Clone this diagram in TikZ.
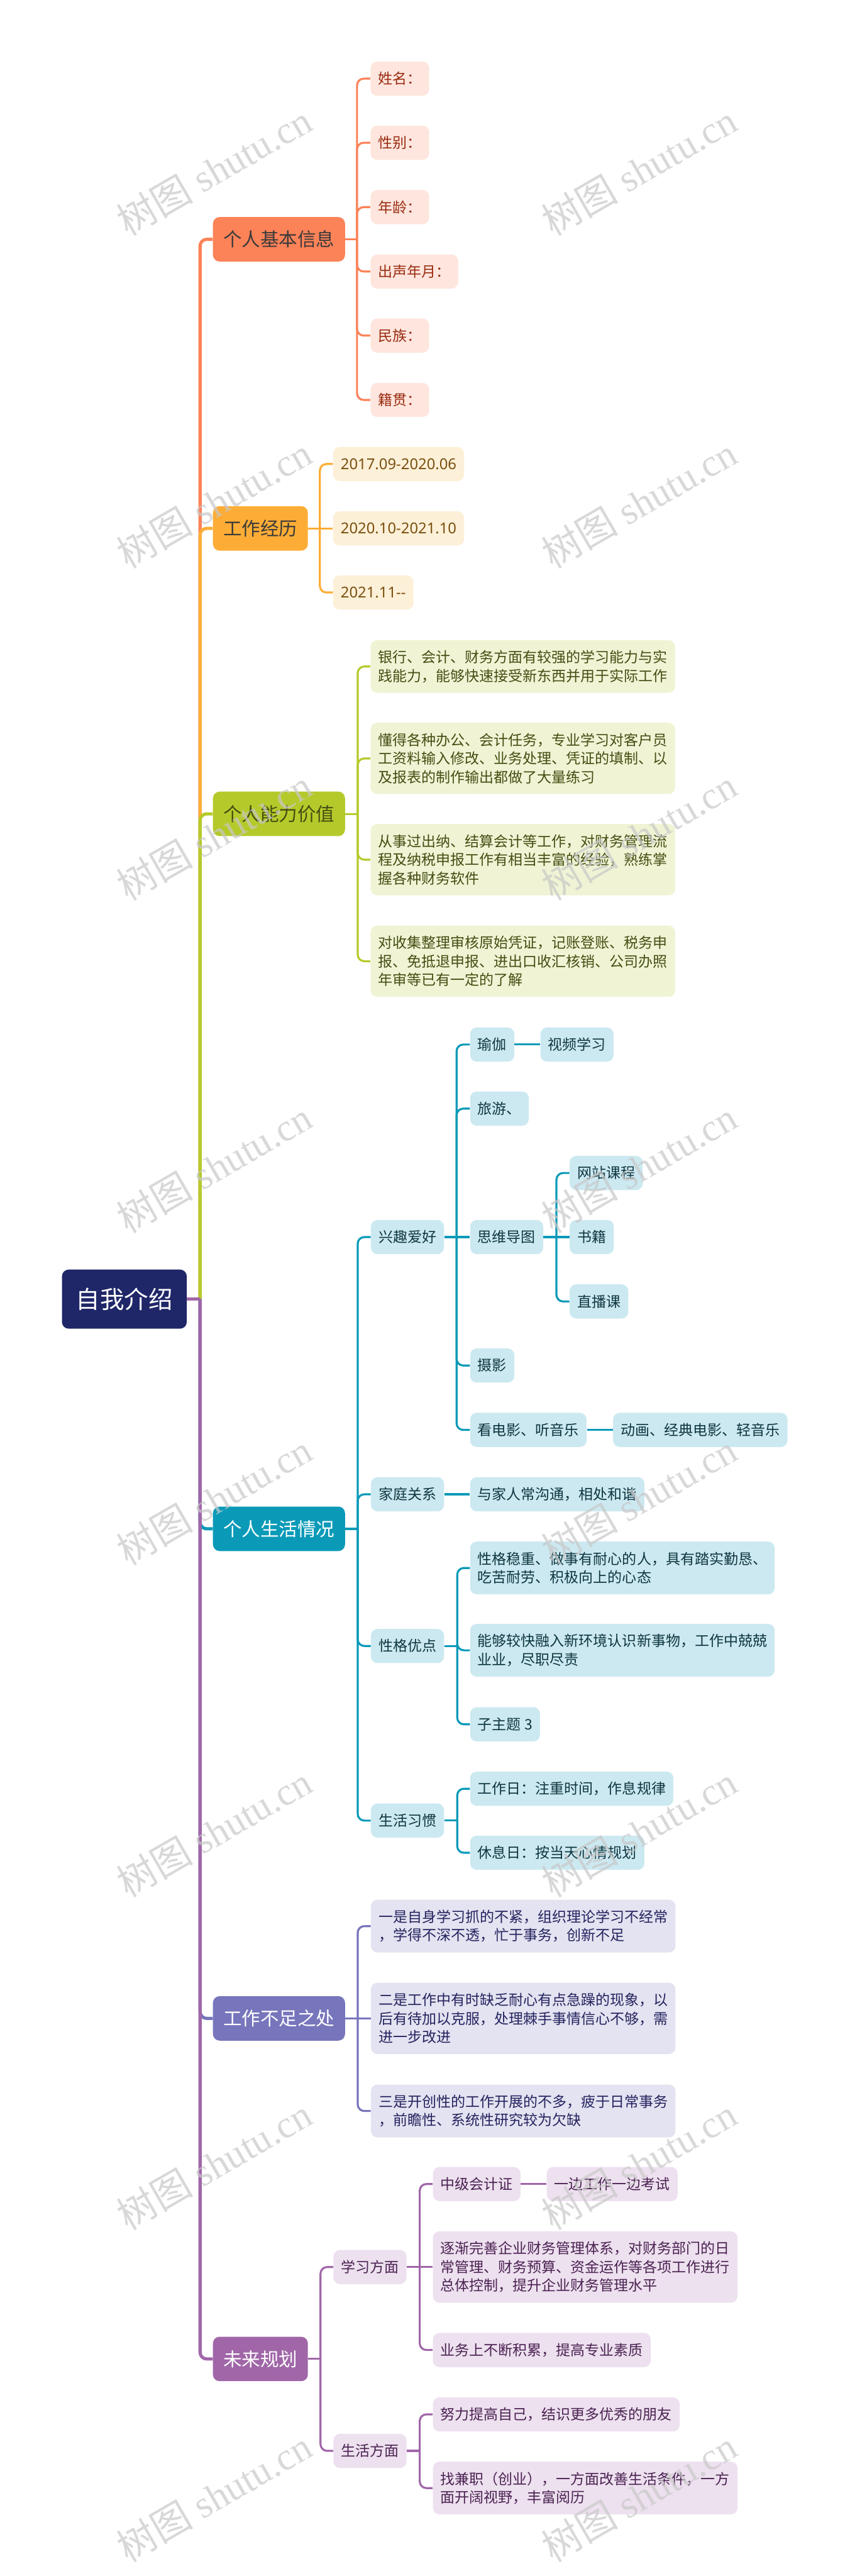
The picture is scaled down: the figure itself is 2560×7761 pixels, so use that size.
\documentclass[tikz,border=0pt]{standalone}
\usepackage{fontspec}
\setmainfont{Noto Sans CJK SC}
\newfontfamily\wmfont{Liberation Serif}
\newfontfamily\numfont{Noto Sans}
\usetikzlibrary{positioning,calc}

\begin{document}
\begin{tikzpicture}[x=0.25pt,y=-0.25pt]
    \definecolor{colroot}{HTML}{1f2768}
    \definecolor{colcoral}{HTML}{fc8258}
    \definecolor{colcoralb}{HTML}{fee6de}
    \definecolor{colcoralt}{HTML}{9a2b10}
    \definecolor{colamber}{HTML}{fdad36}
    \definecolor{colamberb}{HTML}{fdf0d8}
    \definecolor{colambert}{HTML}{7a4f0f}
    \definecolor{collime}{HTML}{b5ca2a}
    \definecolor{collimeb}{HTML}{f0f4d5}
    \definecolor{collimet}{HTML}{454d12}
    \definecolor{colteal}{HTML}{0a9ab8}
    \definecolor{coltealb}{HTML}{cce9f1}
    \definecolor{coltealt}{HTML}{0f3640}
    \definecolor{colindigo}{HTML}{7775bb}
    \definecolor{colindigob}{HTML}{e3e3f1}
    \definecolor{colindigot}{HTML}{25235f}
    \definecolor{colpurple}{HTML}{a066a8}
    \definecolor{colpurpleb}{HTML}{ede0ef}
    \definecolor{colpurplet}{HTML}{4b2352}
    \definecolor{coldark}{HTML}{3a3a3a}
    \definecolor{colmark}{HTML}{c8c8c8}

    \tikzstyle{box}=[anchor=west,rounded corners=5pt,inner ysep=0pt,align=left]
    \tikzstyle{leaf}=[box,inner xsep=5.75pt,minimum height=25.75pt,font=\fontsize{10.9}{14}\selectfont]
    \tikzstyle{twolines}=[minimum height=39.75pt]
    \tikzstyle{threelines}=[minimum height=53.75pt]
    \tikzstyle{topic}=[box,inner xsep=7.75pt,minimum height=33.5pt,font=\fontsize{14}{16}\selectfont]
    \tikzstyle{coralleaf}=[leaf,fill=colcoralb,text=colcoralt]
    \tikzstyle{amberleaf}=[leaf,fill=colamberb,text=colambert,font=\numfont\fontsize{11.3}{14}\selectfont]
    \tikzstyle{limeleaf}=[leaf,fill=collimeb,text=collimet]
    \tikzstyle{tealleaf}=[leaf,fill=coltealb,text=coltealt]
    \tikzstyle{indigoleaf}=[leaf,fill=colindigob,text=colindigot]
    \tikzstyle{purpleleaf}=[leaf,fill=colpurpleb,text=colpurplet]
    \tikzstyle{trunk}=[line width=2.4pt,rounded corners=5pt]
    \tikzstyle{conn}=[line width=1.5pt,rounded corners=5pt]
    \tikzstyle{wmark}=[rotate=30,text=colmark,opacity=0.7,font=\wmfont\fontsize{29}{30}\selectfont]

    \useasboundingbox (0,0) rectangle (2560,7761);

    % root
    \node[box,inner xsep=10.5pt,minimum height=44.5pt,fill=colroot,text=white,
          font=\fontsize{18.25}{20}\selectfont] (root) at (186,3914) {自我介绍};
    \coordinate (rootj) at (603,3914);

    % topics
    \node[topic,fill=colcoral,text=coldark] (basic) at (641,721) {个人基本信息};
    \node[topic,fill=colamber,text=coldark] (work) at (641,1592) {工作经历};
    \node[topic,fill=collime,text=collimet] (ability) at (641,2452) {个人能力价值};
    \node[topic,fill=colteal,text=white] (life) at (641,4606) {个人生活情况};
    \node[topic,fill=colindigo,text=white] (lack) at (641,6081) {工作不足之处};
    \node[topic,fill=colpurple,text=white] (plan) at (641,7107) {未来规划};

    % basic info
    \node[coralleaf] (basic1) at (1116,237) {姓名：};
    \node[coralleaf] (basic2) at (1116,430) {性别：};
    \node[coralleaf] (basic3) at (1116,624) {年龄：};
    \node[coralleaf] (basic4) at (1116,818) {出声年月：};
    \node[coralleaf] (basic5) at (1116,1011) {民族：};
    \node[coralleaf] (basic6) at (1116,1205) {籍贯：};
    \coordinate (basicj) at (1076,721);

    % work history
    \node[amberleaf] (work1) at (1003,1398) {2017.09-2020.06};
    \node[amberleaf] (work2) at (1003,1592) {2020.10-2021.10};
    \node[amberleaf] (work3) at (1003,1785) {2021.11-{}-};
    \coordinate (workj) at (964,1592);

    % ability
    \node[limeleaf,twolines] (ability1) at (1116,2008) {银行、会计、财务方面有较强的学习能力与实\\践能力，能够快速接受新东西并用于实际工作};
    \node[limeleaf,threelines] (ability2) at (1116,2285) {懂得各种办公、会计任务，专业学习对客户员\\工资料输入修改、业务处理、凭证的填制、以\\及报表的制作输出都做了大量练习};
    \node[limeleaf,threelines] (ability3) at (1116,2590) {从事过出纳、结算会计等工作，对财务管理流\\程及纳税申报工作有相当丰富的经验，熟练掌\\握各种财务软件};
    \node[limeleaf,threelines] (ability4) at (1116,2896) {对收集整理审核原始凭证，记账登账、税务申\\报、免抵退申报、进出口收汇核销、公司办照\\年审等已有一定的了解};
    \coordinate (abilityj) at (1078,2452);

    % life
    \node[tealleaf] (hobby) at (1117,3727) {兴趣爱好};
    \node[tealleaf] (family) at (1117,4502) {家庭关系};
    \node[tealleaf] (trait) at (1117,4959) {性格优点};
    \node[tealleaf] (habit) at (1117,5485) {生活习惯};
    \coordinate (lifej) at (1078,4606);

    \node[tealleaf] (yoga) at (1416,3147) {瑜伽};
    \node[tealleaf] (video) at (1628,3147) {视频学习};
    \node[tealleaf] (travel) at (1416,3340) {旅游、};
    \node[tealleaf] (mind) at (1416,3727) {思维导图};
    \node[tealleaf] (course) at (1716,3534) {网站课程};
    \node[tealleaf] (books) at (1716,3727) {书籍};
    \node[tealleaf] (live) at (1716,3921) {直播课};
    \node[tealleaf] (photo) at (1416,4114) {摄影};
    \node[tealleaf] (movie) at (1416,4308) {看电影、听音乐};
    \node[tealleaf] (anime) at (1847,4308) {动画、经典电影、轻音乐};
    \coordinate (hobbyj) at (1376,3727);
    \coordinate (mindj) at (1677,3727);

    \node[tealleaf] (family1) at (1416,4502) {与家人常沟通，相处和谐};
    \node[tealleaf,twolines] (trait1) at (1416,4724) {性格稳重、做事有耐心的人，具有踏实勤恳、\\吃苦耐劳、积极向上的心态};
    \node[tealleaf,twolines] (trait2) at (1416,4972) {能够较快融入新环境认识新事物，工作中兢兢\\业业，尽职尽责};
    \node[tealleaf] (trait3) at (1416,5195) {子主题 3};
    \coordinate (traitj) at (1378,4959);
    \node[tealleaf] (habit1) at (1416,5389) {工作日：注重时间，作息规律};
    \node[tealleaf] (habit2) at (1416,5582) {休息日：按当天心情规划};
    \coordinate (habitj) at (1378,5485);

    % shortcomings
    \node[indigoleaf,twolines] (lack1) at (1117,5803) {一是自身学习抓的不紧，组织理论学习不经常\\，学得不深不透，忙于事务，创新不足};
    \node[indigoleaf,threelines] (lack2) at (1117,6081) {二是工作中有时缺乏耐心有点急躁的现象，以\\后有待加以克服，处理棘手事情信心不够，需\\进一步改进};
    \node[indigoleaf,twolines] (lack3) at (1117,6360) {三是开创性的工作开展的不多，疲于日常事务\\，前瞻性、系统性研究较为欠缺};
    \coordinate (lackj) at (1078,6081);

    % plans
    \node[purpleleaf] (study) at (1004,6830) {学习方面};
    \node[purpleleaf] (living) at (1004,7384) {生活方面};
    \coordinate (planj) at (966,7107);
    \node[purpleleaf] (cert) at (1304,6580) {中级会计证};
    \node[purpleleaf] (exam) at (1647,6580) {一边工作一边考试};
    \node[purpleleaf,threelines] (study2) at (1304,6830) {逐渐完善企业财务管理体系，对财务部门的日\\常管理、财务预算、资金运作等各项工作进行\\总体控制，提升企业财务管理水平};
    \node[purpleleaf] (study3) at (1304,7080) {业务上不断积累，提高专业素质};
    \coordinate (studyj) at (1265,6830);
    \node[purpleleaf] (living1) at (1304,7274) {努力提高自己，结识更多优秀的朋友};
    \node[purpleleaf,twolines] (living2) at (1304,7496) {找兼职（创业），一方面改善生活条件，一方\\面开阔视野，丰富阅历};
    \coordinate (livingj) at (1265,7384);

    % trunk
    \draw[trunk,colcoral] (rootj) |- (basic.west);
    \draw[trunk,colamber] (rootj) |- (work.west);
    \draw[trunk,collime] (rootj) |- (ability.west);
    \draw[trunk,colteal] (rootj) |- (life.west);
    \draw[trunk,colindigo] (rootj) |- (lack.west);
    \draw[trunk,colpurple] (rootj) |- (plan.west);
    \draw[trunk,colpurple] (root.east) -- (rootj);

    % connectors
    \draw[conn,colcoral] (basic.east) -- (basicj);
    \foreach \c in {basic1,basic2,basic3,basic4,basic5,basic6}
        \draw[conn,colcoral] (basicj) |- (\c.west);

    \draw[conn,colamber] (work.east) -- (work2.west);
    \foreach \c in {work1,work3}
        \draw[conn,colamber] (workj) |- (\c.west);

    \draw[conn,collime] (ability.east) -- (abilityj);
    \foreach \c in {ability1,ability2,ability3,ability4}
        \draw[conn,collime] (abilityj) |- (\c.west);

    \draw[conn,colteal] (life.east) -- (lifej);
    \foreach \c in {hobby,family,trait,habit}
        \draw[conn,colteal] (lifej) |- (\c.west);
    \draw[conn,colteal] (hobby.east) -- (mind.west);
    \foreach \c in {yoga,travel,photo,movie}
        \draw[conn,colteal] (hobbyj) |- (\c.west);
    \draw[conn,colteal] (yoga.east) -- (video.west);
    \draw[conn,colteal] (mind.east) -- (books.west);
    \foreach \c in {course,live}
        \draw[conn,colteal] (mindj) |- (\c.west);
    \draw[conn,colteal] (movie.east) -- (anime.west);
    \draw[conn,colteal] (family.east) -- (family1.west);
    \draw[conn,colteal] (trait.east) -- (traitj);
    \foreach \c in {trait1,trait2,trait3}
        \draw[conn,colteal] (traitj) |- (\c.west);
    \draw[conn,colteal] (habit.east) -- (habitj);
    \foreach \c in {habit1,habit2}
        \draw[conn,colteal] (habitj) |- (\c.west);

    \draw[conn,colindigo] (lack.east) -- (lack2.west);
    \foreach \c in {lack1,lack3}
        \draw[conn,colindigo] (lackj) |- (\c.west);

    \draw[conn,colpurple] (plan.east) -- (planj);
    \foreach \c in {study,living}
        \draw[conn,colpurple] (planj) |- (\c.west);
    \draw[conn,colpurple] (study.east) -- (study2.west);
    \foreach \c in {cert,study3}
        \draw[conn,colpurple] (studyj) |- (\c.west);
    \draw[conn,colpurple] (cert.east) -- (exam.west);
    \draw[conn,colpurple] (living.east) -- (livingj);
    \foreach \c in {living1,living2}
        \draw[conn,colpurple] (livingj) |- (\c.west);

    % watermark
    \foreach \wy in {513,1515,2516,3517,4518,5519,6520,7521}
        \foreach \wx in {645,1926}
            \node[wmark] (mark\wx\wy) at (\wx,\wy) {{\fontspec{Noto Sans CJK SC}树图} shutu.cn};
\end{tikzpicture}
\end{document}
